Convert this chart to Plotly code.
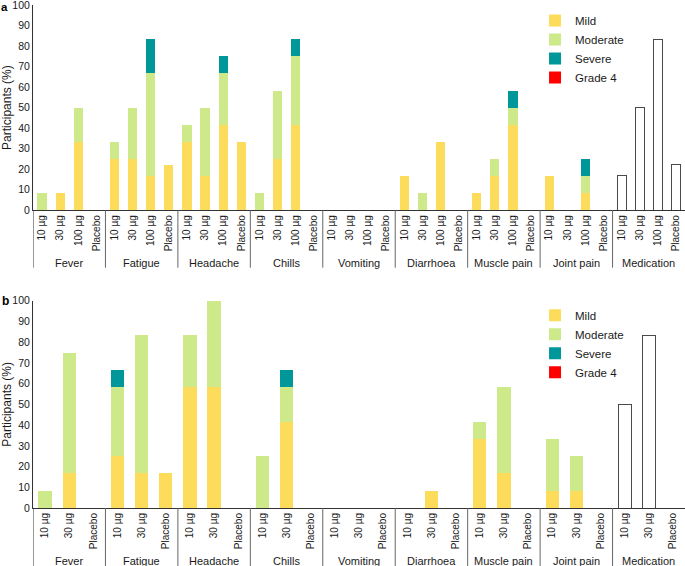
import plotly.graph_objects as go

# ---------------- data ----------------
groups = ["Fever", "Fatigue", "Headache", "Chills", "Vomiting",
          "Diarrhoea", "Muscle pain", "Joint pain", "Medication"]
doses_a = ["10 µg", "30 µg", "100 µg", "Placebo"]
doses_b = ["10 µg", "30 µg", "Placebo"]

# Panel a: per symptom (Fever ... Joint pain), values for 10, 30, 100 µg, placebo
a_mild = [0, 8.3, 33.3, 0,
          25, 25, 16.7, 22.2,
          33.3, 16.7, 41.7, 33.3,
          0, 25, 41.7, 0,
          0, 0, 0, 0,
          16.7, 0, 33.3, 0,
          8.3, 16.7, 41.7, 0,
          16.7, 0, 8.3, 0]
a_moderate = [8.3, 0, 16.7, 0,
              8.3, 25, 50, 0,
              8.3, 33.3, 25, 0,
              8.3, 33.3, 33.3, 0,
              0, 0, 0, 0,
              0, 8.3, 0, 0,
              0, 8.3, 8.3, 0,
              0, 0, 8.3, 0]
a_severe = [0, 0, 0, 0,
            0, 0, 16.7, 0,
            0, 0, 8.3, 0,
            0, 0, 8.3, 0,
            0, 0, 0, 0,
            0, 0, 0, 0,
            0, 0, 8.3, 0,
            0, 0, 8.3, 0]
a_grade4 = [0] * 32
a_medication = [16.7, 50, 83.3, 22.2]

# Panel b: per symptom (Fever ... Joint pain), values for 10, 30 µg, placebo
b_mild = [0, 16.7, 0,
          25, 16.7, 16.7,
          58.3, 58.3, 0,
          0, 41.7, 0,
          0, 0, 0,
          0, 8.3, 0,
          33.3, 16.7, 0,
          8.3, 8.3, 0]
b_moderate = [8.3, 58.3, 0,
              33.3, 66.7, 0,
              25, 41.7, 0,
              25, 16.7, 0,
              0, 0, 0,
              0, 0, 0,
              8.3, 41.7, 0,
              25, 16.7, 0]
b_severe = [0, 0, 0,
            8.3, 0, 0,
            0, 0, 0,
            0, 8.3, 0,
            0, 0, 0,
            0, 0, 0,
            0, 0, 0,
            0, 0, 0]
b_grade4 = [0] * 24
b_medication = [50, 83.3, 0]

series_names = ["Mild", "Moderate", "Severe", "Grade 4"]
colors = ["#FDDC5C", "#CDE98A", "#00979B", "#FF0000"]

FONT = "Liberation Sans, Arial, sans-serif"
AXC = "#333333"
DIVC = "#666666"
TXT = "#1a1a1a"


def nz(vals):
    return [v if v else None for v in vals]


fig = go.Figure()

panels = [
    (doses_a, [a_mild, a_moderate, a_severe, a_grade4], a_medication,
     "x", "y", "legend", 0.51),
    (doses_b, [b_mild, b_moderate, b_severe, b_grade4], b_medication,
     "x2", "y2", "legend2", 0.55),
]

shapes = []
annotations = []
axis_ticks = {}

for doses, series, med, xa, ya, lg, w in panels:
    k = len(doses)
    n_all = len(groups) * k
    pos = list(range(n_all))
    axis_ticks[xa] = (pos, [d for g in groups for d in doses])
    n_sym = (len(groups) - 1) * k
    for name, col, vals in zip(series_names, colors, series):
        fig.add_trace(go.Bar(
            x=pos, y=nz(list(vals) + [0] * k),
            name=name, marker=dict(color=col, line=dict(width=0)),
            width=w, xaxis=xa, yaxis=ya, legend=lg,
            hoverinfo="skip"))
    fig.add_trace(go.Bar(
        x=pos, y=nz([0] * n_sym + list(med)),
        name="Medication", showlegend=False,
        marker=dict(color="white", line=dict(color="#4a4a4a", width=1)),
        width=w * 0.98, xaxis=xa, yaxis=ya, hoverinfo="skip"))

    yref = ya + " domain"
    for gi in range(len(groups)):
        shapes.append(dict(type="line", xref=xa, yref=yref,
                           x0=gi * k - 0.5, x1=gi * k - 0.5, y0=0, y1=-0.28,
                           line=dict(color=DIVC if gi else AXC, width=1)))
        annotations.append(dict(text=groups[gi], xref=xa, yref=yref,
                                x=gi * k + (k - 1) / 2, y=-0.255,
                                xanchor="center", yanchor="middle",
                                showarrow=False,
                                font=dict(family=FONT, size=11, color=TXT)))


def xaxis_cfg(xa, anchor, domain):
    pos, labels = axis_ticks[xa]
    return dict(
        domain=domain, anchor=anchor,
        range=[-0.5, len(pos) - 0.5],
        tickmode="array", tickvals=pos, ticktext=labels,
        showline=True, linecolor=AXC, linewidth=1, zeroline=False,
        showgrid=False, ticks="", tickangle=-90, automargin=False,
        tickfont=dict(family=FONT, size=10, color=TXT),
    )


def yaxis_cfg(anchor, domain):
    return dict(
        domain=domain, anchor=anchor,
        range=[0, 100], tick0=0, dtick=10, showline=True, linecolor=AXC,
        linewidth=1, showgrid=False, zeroline=False, ticks="",
        automargin=False, ticklabeloverflow="allow",
        tickfont=dict(family=FONT, size=10.5, color=TXT),
        title=dict(text="Participants (%)",
                   font=dict(family=FONT, size=12, color=TXT), standoff=6),
    )


legend_common = dict(
    font=dict(family=FONT, size=11.5, color=TXT), bgcolor="rgba(0,0,0,0)",
    borderwidth=0, itemclick=False, itemdoubleclick=False, tracegroupgap=0,
    traceorder="normal", xanchor="left", yanchor="top",
)

annotations += [
    dict(text="<b>a</b>", x=-0.051, y=1.0099, xref="paper", yref="paper",
         xanchor="left", yanchor="top", showarrow=False, borderpad=0,
         font=dict(family=FONT, size=11.5, color="#000")),
    dict(text="<b>b</b>", x=-0.051, y=0.412, xref="paper", yref="paper",
         xanchor="left", yanchor="middle", showarrow=False,
         font=dict(family=FONT, size=12, color="#000")),
]

fig.update_layout(
    width=685, height=566,
    margin=dict(l=33, r=0, t=5, b=58),
    plot_bgcolor="white", paper_bgcolor="white",
    barmode="stack",
    font=dict(family=FONT, size=12, color=TXT),
    xaxis=xaxis_cfg("x", "y", [0, 1]),
    yaxis=yaxis_cfg("x", [0.592, 1]),
    xaxis2=xaxis_cfg("x2", "y2", [0, 1]),
    yaxis2=yaxis_cfg("x2", [0, 0.412]),
    legend=dict(x=0.77, y=0.998, **legend_common),
    legend2=dict(x=0.77, y=0.412, **legend_common),
    shapes=shapes,
    annotations=annotations,
)

fig.write_html("out.html",
               config={"displayModeBar": False, "staticPlot": True},
               post_script="document.body.style.margin='0';"
                           "document.body.style.overflow='hidden';")
